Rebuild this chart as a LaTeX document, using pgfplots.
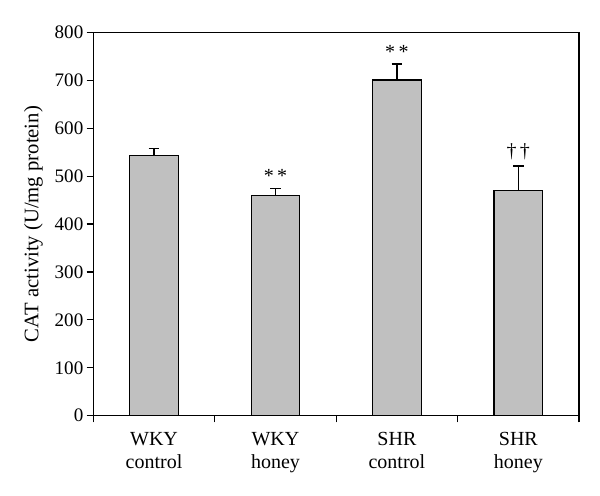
\documentclass[border=0pt]{standalone}
\usepackage{fontspec}
\setmainfont{Liberation Serif}
\usepackage{pgfplots}
\pgfplotsset{compat=1.18}
\begin{document}
\begin{tikzpicture}[x=1pt,y=1pt]
\path[use as bounding box] (-70pt,-59.5pt) rectangle (380pt,311.8pt);
\begin{axis}[
  at={(0,0)}, anchor=south west,
  scale only axis, width=364.3pt, height=287.5pt,
  xmin=-0.5, xmax=3.5, ymin=0, ymax=800,
  ytick={0,100,...,800},
  xtick={0,1,2,3},
  xticklabels={{WKY\\control},{WKY\\honey},{SHR\\control},{SHR\\honey}},
  xticklabel style={align=center, font=\fontsize{15}{17}\selectfont, yshift=-4pt},
  yticklabel style={font=\fontsize{14.3}{16}\selectfont, xshift=1pt},
  /pgf/number format/assume math mode=true,
  major x tick style={draw=none},
  minor xtick={-0.5,0.5,1.5,2.5,3.5},
  minor tick length=5pt, major tick length=5pt,
  tick align=outside, xtick pos=bottom, ytick pos=left,
  tick style={black, line width=0.9pt},
  axis line style={line width=0.9pt},
  ylabel={CAT activity (U/mg protein)},
  ylabel style={font=\fontsize{15.5}{17}\selectfont, yshift=2pt},
  clip=false,
]
\addplot[ybar, bar width=0.4, fill={rgb,255:red,192;green,192;blue,192}, draw=black, line width=0.9pt,
  error bars/.cd, y dir=plus, y explicit,
  error bar style={line width=0.9pt},
  error mark options={rotate=90, mark size=4pt, line width=0.9pt}]
coordinates {
 (0,543.6) +- (0,13.8)
 (1,459.3) +- (0,15.4)
 (2,700.8) +- (0,33.2)
 (3,469.7) +- (0,51.3)
};
\node[font=\fontsize{15}{17}\selectfont, anchor=south] at (axis cs:1,476) {*\,*};
\node[font=\fontsize{15}{17}\selectfont, anchor=south] at (axis cs:2,736) {*\,*};
\node[font=\fontsize{15}{17}\selectfont, anchor=south] at (axis cs:3,524) {†\,†};
\end{axis}
\end{tikzpicture}
\end{document}
